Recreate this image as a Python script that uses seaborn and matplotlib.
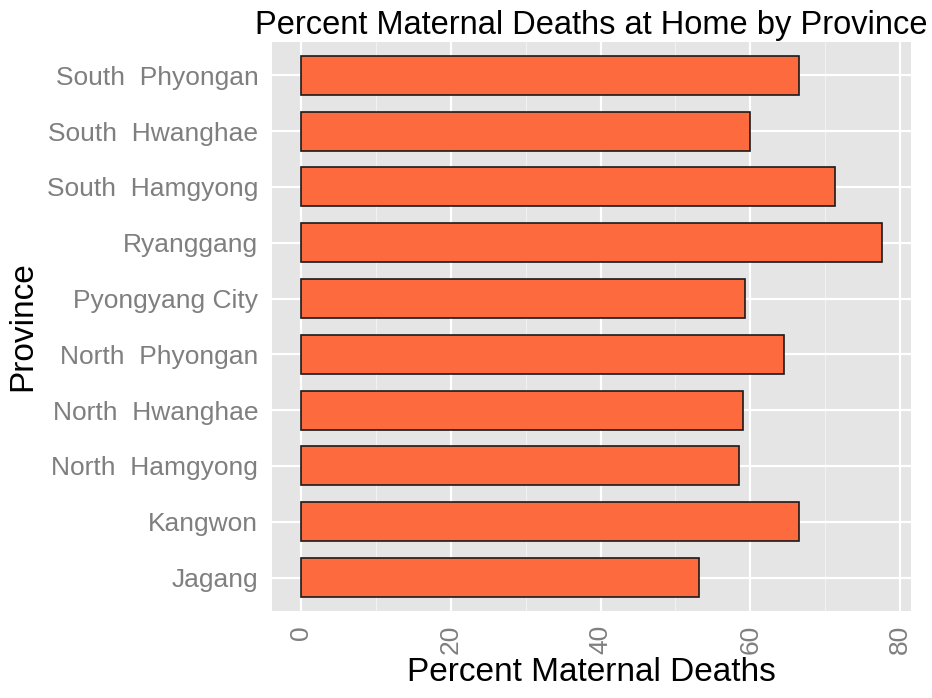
import pandas as pd
import matplotlib.pyplot as plt
import seaborn as sns

provinces = ['South  Phyongan', 'South  Hwanghae', 'South  Hamgyong', 'Ryanggang',
             'Pyongyang City', 'North  Phyongan', 'North  Hwanghae', 'North  Hamgyong',
             'Kangwon', 'Jagang']
pct_deaths = [66.5, 59.9, 71.3, 77.6, 59.3, 64.5, 59.0, 58.5, 66.5, 53.2]
x_ticks = [0, 20, 40, 60, 80]

df = pd.DataFrame({'Province': provinces, 'Percent': pct_deaths})

sns.set_theme(style='darkgrid', rc={
    'axes.facecolor': '#E5E5E5',
    'grid.color': 'white',
})
plt.rcParams['font.family'] = ['Liberation Sans', 'DejaVu Sans']

fig = plt.figure(figsize=(9.32, 6.98), dpi=100)
ax = fig.add_axes([0.292, 0.1246, 0.6855, 0.8154])

sns.barplot(data=df, x='Percent', y='Province', order=provinces, orient='h',
            color='#FD6A3E', edgecolor='#1a1a1a', linewidth=1.2, width=0.7,
            saturation=1, ax=ax)

vmax = max(pct_deaths)
ax.set_xlim(-0.05 * vmax, vmax * 1.05)
ax.set_ylim(len(provinces) - 0.4, -0.6)

ax.set_xticks(x_ticks)
ax.set_xticks([10, 30, 50, 70], minor=True)
ax.grid(True, which='major', color='white', linewidth=1.6)
ax.grid(True, which='minor', axis='x', color='#F2F2F2', linewidth=0.8)
ax.set_axisbelow(True)
for s in ax.spines.values():
    s.set_visible(False)

ax.tick_params(axis='both', which='major', length=5, width=1, color='#7F7F7F',
               labelcolor='#7F7F7F', labelsize=19, pad=5)
ax.tick_params(axis='x', which='minor', length=0)
ax.tick_params(axis='x', labelrotation=90)

ax.set_xlabel('Percent Maternal Deaths', fontsize=24, color='black', labelpad=2)
ax.set_ylabel('Province', fontsize=24, color='black', labelpad=6)
ax.set_title('Percent Maternal Deaths at Home by Province', fontsize=23.5, color='black', pad=6)

fig.savefig('out.png', dpi=100)
